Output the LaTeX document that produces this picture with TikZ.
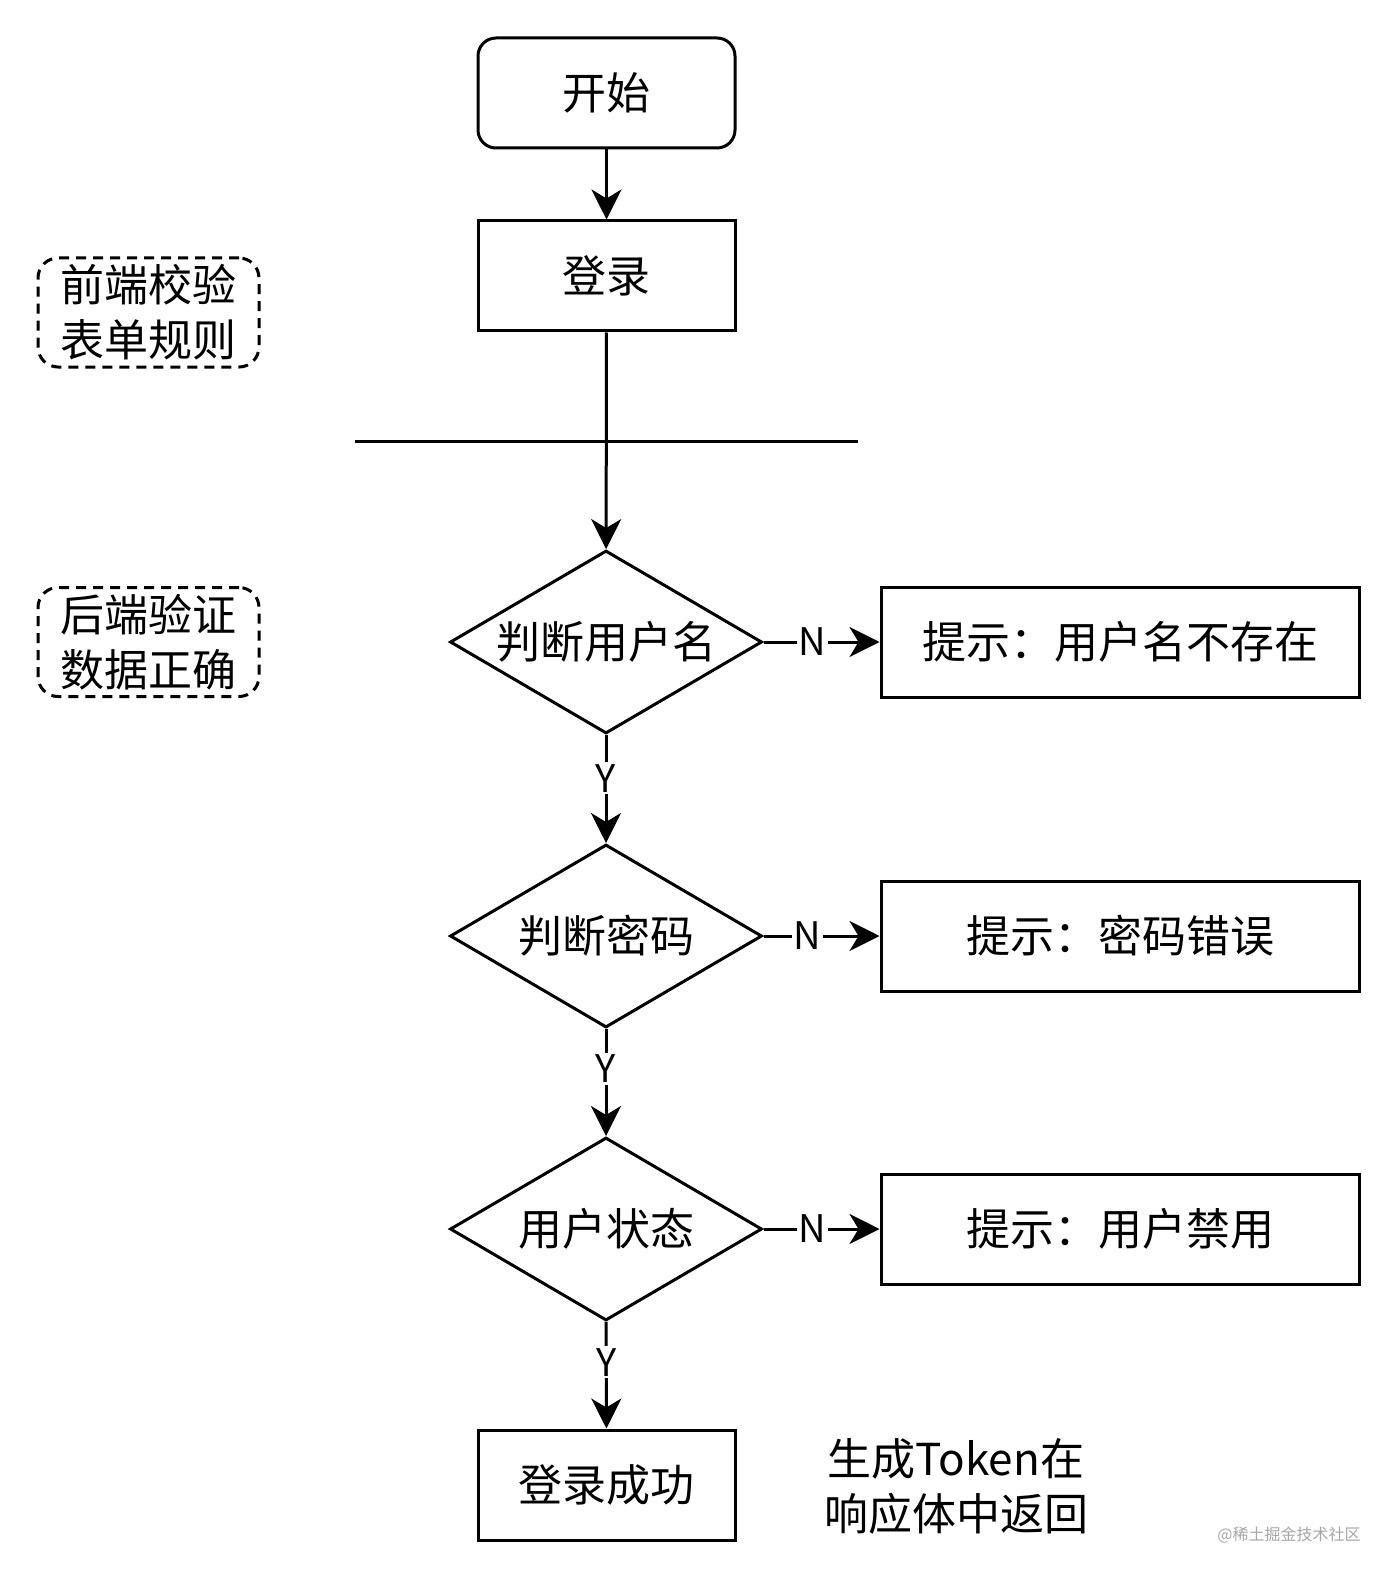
\documentclass[tikz,border=0pt]{standalone}
\usepackage{fontspec}
\setmainfont{Noto Sans CJK SC}
\usetikzlibrary{shapes.geometric,arrows.meta}
\begin{document}
\begin{tikzpicture}[x=0.5pt,y=-0.5pt,
  txt/.style={font=\fontsize{22}{27.5}\selectfont},
  box/.style={draw,line width=1.5pt,minimum width=128.5pt,minimum height=55pt,inner sep=0pt,txt},
  rbox/.style={box,minimum width=239pt},
  dia/.style={draw,line width=1.5pt,diamond,aspect=1.7,minimum width=156pt,minimum height=91.5pt,inner sep=0pt,txt},
  note/.style={draw,line width=1.5pt,dash pattern=on 5pt off 3.5pt,rounded corners=10pt,minimum width=110.5pt,minimum height=54.5pt,inner sep=0pt,align=center,txt},
  conn/.style={line width=1.5pt,-{Stealth[length=15pt,width=15pt,inset=4.5pt]}},
  lbl/.style={fill=white,inner sep=1pt,font=\fontsize{19}{22}\selectfont}
]
\useasboundingbox (0,0) rectangle (1400,1583);

\node[box,rounded corners=9pt] (start) at (606.5,93) {开始};
\node[box] (login) at (606.5,276) {登录};
\coordinate (hl) at (355,441);
\coordinate (hr) at (858,441);
\draw[line width=1.5pt] (hl) -- (hr);

\node[dia] (d1) at (606,642) {判断用户名};
\node[rbox] (b1) at (1120,642) {提示：用户名不存在};
\node[dia] (d2) at (606,936) {判断密码};
\node[rbox] (b2) at (1120,936) {提示：密码错误};
\node[dia] (d3) at (606,1229) {用户状态};
\node[rbox] (b3) at (1120,1229) {提示：用户禁用};
\node[box] (ok) at (606.5,1485) {登录成功};

\node[note] (n1) at (148.5,312.5) {前端校验\\表单规则};
\node[note] (n2) at (148.5,642) {后端验证\\数据正确};

\node[txt,align=center] (tok) at (956,1486) {生成Token在\\响应体中返回};
\node[font=\fontsize{8}{10}\selectfont,text=black!35] (wm) at (1289,1535) {@稀土掘金技术社区};

\draw[conn] (start) -- (login);
\draw[conn] (login) -- (d1);
\draw[conn] (d1) -- node[lbl,pos=0.42] {N} (b1);
\draw[conn] (d2) -- node[lbl,pos=0.38] {N} (b2);
\draw[conn] (d3) -- node[lbl,pos=0.42] {N} (b3);
\draw[conn] (d1) -- node[lbl,pos=0.4] {Y} (d2);
\draw[conn] (d2) -- node[lbl,pos=0.37] {Y} (d3);
\draw[conn] (d3) -- node[lbl,pos=0.38] {Y} (ok);
\end{tikzpicture}
\end{document}
